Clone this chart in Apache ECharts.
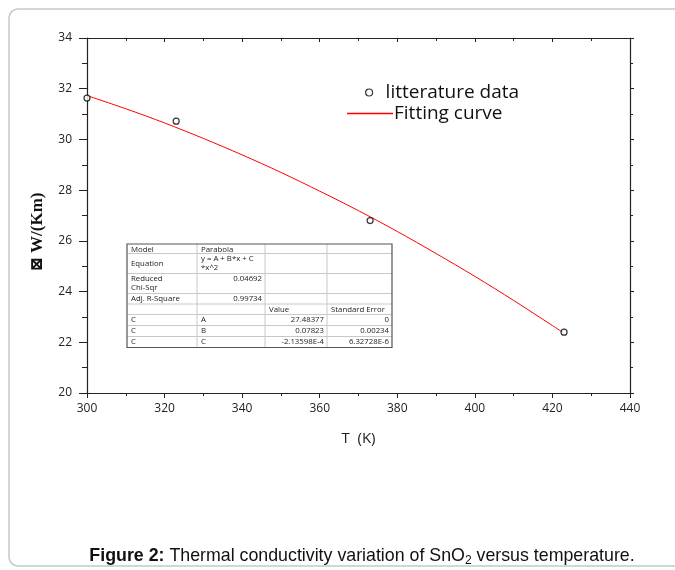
<!DOCTYPE html>
<html>
<head>
<meta charset="utf-8">
<script src="https://cdn.jsdelivr.net/npm/echarts@6/dist/echarts.min.js"></script>
<style>
html,body{margin:0;padding:0;background:#fff;}
#main{width:675px;height:570px;}
</style>
</head>
<body>
<div id="main"></div>
<script>
// ---- data ----
const litT = [300, 323, 373, 423];
const litW = [31.63, 30.72, 26.80, 22.40];
const fitT = [300, 310, 320, 330, 340, 350, 360, 370, 380, 390, 400, 410, 420, 423];
const fitW = [31.73, 31.21, 30.65, 30.04, 29.39, 28.70, 27.96, 27.19, 26.37, 25.50, 24.60, 23.65, 22.66, 22.36];
const seriesNames = ['litterature data', 'Fitting curve'];
const xAxisTitle = 'T  (K)';
const yAxisTitle = '\u22A0 W/(Km)';
const tableRows = [
  ['Model', 'Parabola', '', ''],
  ['Equation', 'y = A + B*x + C\n*x^2', '', ''],
  ['Reduced\nChi-Sqr', '0.04692', '', ''],
  ['Adj. R-Square', '0.99734', '', ''],
  ['', '', 'Value', 'Standard Error'],
  ['C', 'A', '27.48377', '0'],
  ['C', 'B', '0.07823', '0.00234'],
  ['C', 'C', '-2.13598E-4', '6.32728E-6']
];

// ---- table layout (positions only) ----
const colX = [127, 197, 265, 327, 392];
const rowY = [244, 253.5, 273.5, 293.5, 304, 314.5, 325.5, 336.5, 347.5];
const numRe = /^-?[0-9.]+(E-?\d+)?$/;
const tableEls = [];
tableEls.push({type:'rect', shape:{x:colX[0], y:rowY[0], width:colX[4]-colX[0], height:rowY[8]-rowY[0]}, style:{fill:'#fff', stroke:'none'}, z:10});
for (let i = 1; i < colX.length - 1; i++) {
  tableEls.push({type:'line', shape:{x1:colX[i], y1:rowY[0], x2:colX[i], y2:rowY[8]}, style:{stroke:'#c8c8c8', lineWidth:1}, z:11});
}
for (let j = 1; j < rowY.length - 1; j++) {
  tableEls.push({type:'line', shape:{x1:colX[0], y1:rowY[j], x2:colX[4], y2:rowY[j]}, style:{stroke:'#c8c8c8', lineWidth:1}, z:11});
}
tableEls.push({type:'rect', shape:{x:colX[0], y:rowY[0], width:colX[4]-colX[0], height:rowY[8]-rowY[0]}, style:{fill:'none', stroke:'#555', lineWidth:1.2}, z:12});
tableRows.forEach((row, r) => {
  row.forEach((txt, c) => {
    if (!txt) return;
    const isNum = numRe.test(txt);
    const centerV = (r === 1 && c === 0);
    tableEls.push({
      type:'text', z:13,
      x: isNum ? colX[c+1] - 3 : colX[c] + 4,
      y: centerV ? (rowY[r] + rowY[r+1]) / 2 : rowY[r] + 1.5,
      style:{
        text: txt, fill:'#222', font:'7.8px "Open Sans"', lineHeight: 8.5,
        align: isNum ? 'right' : 'left',
        verticalAlign: centerV ? 'middle' : 'top'
      }
    });
  });
});

const chart = echarts.init(document.getElementById('main'), null, {renderer:'canvas'});
const axisCommon = {
  type:'value', splitLine:{show:false},
  axisLine:{show:true, lineStyle:{color:'#222', width:1.2}},
};
const option = {
  backgroundColor:'#fff',
  animation:false,
  color:['#000000', '#ff0000'],
  title:{
    text:'{b|Figure 2:} Thermal conductivity variation of SnO{s|2} versus temperature.',
    left:357, textAlign:'center', top:540,
    textStyle:{
      fontFamily:'"Liberation Sans", Arial, sans-serif', fontSize:17.8, fontWeight:'normal', color:'#111',
      rich:{
        b:{fontFamily:'"Liberation Sans", Arial, sans-serif', fontSize:17.8, fontWeight:'bold', color:'#111'},
        s:{fontFamily:'"Liberation Sans", Arial, sans-serif', fontSize:12, color:'#111', padding:[10,0,0,0]}
      }
    }
  },
  grid:{left:87, right:45, top:38, bottom:177},
  legend:[
    {data:[{name:seriesNames[0], icon:'circle', itemStyle:{color:'#fff', borderColor:'#000', borderWidth:1.2}}],
     left:365, top:83, padding:0, itemWidth:7, itemHeight:7,
     textStyle:{fontFamily:'"Open Sans"', fontSize:19, color:'#111', padding:[0,0,0,8]}},
    {data:[{name:seriesNames[1], icon:'rect', itemStyle:{color:'#ff0000', borderWidth:0, borderColor:'#ff0000'}}],
     left:347, top:104, padding:0, itemWidth:46, itemHeight:1.5,
     textStyle:{fontFamily:'"Open Sans"', fontSize:19, color:'#111', padding:[0,0,0,-4]}}
  ],
  xAxis:[
    Object.assign({}, axisCommon, {
      position:'bottom', min:300, max:440, interval:20,
      axisTick:{show:true, length:5, lineStyle:{color:'#222', width:1}},
      minorTick:{show:true, splitNumber:2, length:3, lineStyle:{color:'#222', width:1}},
      axisLabel:{fontFamily:'"Open Sans"', fontSize:12, color:'#222', margin:10},
      name:xAxisTitle, nameLocation:'middle', nameGap:38,
      nameTextStyle:{fontFamily:'"Open Sans"', fontSize:15, color:'#222'}
    }),
    Object.assign({}, axisCommon, {
      position:'top', min:300, max:440, interval:20,
      axisTick:{show:true, inside:true, length:4, lineStyle:{color:'#222', width:1}},
      minorTick:{show:true, splitNumber:2, length:3, lineStyle:{color:'#222', width:1}},
      axisLabel:{show:false}
    })
  ],
  yAxis:[
    Object.assign({}, axisCommon, {
      position:'left', min:20, max:34, interval:2,
      axisTick:{show:true, length:8, lineStyle:{color:'#222', width:1}},
      minorTick:{show:true, splitNumber:2, length:5, lineStyle:{color:'#222', width:1}},
      axisLabel:{fontFamily:'"Open Sans"', fontSize:12, color:'#222', margin:15}
    }),
    Object.assign({}, axisCommon, {
      position:'right', min:20, max:34, interval:2,
      axisTick:{show:true, length:4, lineStyle:{color:'#222', width:1}},
      minorTick:{show:true, splitNumber:2, length:3, lineStyle:{color:'#222', width:1}},
      axisLabel:{show:false}
    })
  ],
  series:[
    {name:seriesNames[0], type:'scatter', xAxisIndex:0, yAxisIndex:0,
     data: litT.map((t,i)=>[t, litW[i]]),
     symbol:'circle', symbolSize:6,
     itemStyle:{color:'#fff', borderColor:'#000', borderWidth:1.2}, z:5},
    {name:seriesNames[1], type:'line', xAxisIndex:0, yAxisIndex:0,
     data: fitT.map((t,i)=>[t, fitW[i]]),
     symbol:'none', smooth:0.3,
     lineStyle:{color:'#ff0000', width:1}, itemStyle:{color:'#ff0000'}, z:4}
  ],
  graphic:[
    {type:'rect', shape:{x:9, y:9, width:760, height:557, r:9}, style:{fill:'none', stroke:'#c8c8c8', lineWidth:1.5}, z:-1, silent:true},
    {type:'text', x:38, y:232, rotation:Math.PI/2,
     style:{text:yAxisTitle, font:'bold 17px "Liberation Serif", "DejaVu Serif", serif', fill:'#111', align:'center', verticalAlign:'middle'}},
    {type:'group', children: tableEls}
  ]
};
chart.setOption(option);
</script>
</body>
</html>
